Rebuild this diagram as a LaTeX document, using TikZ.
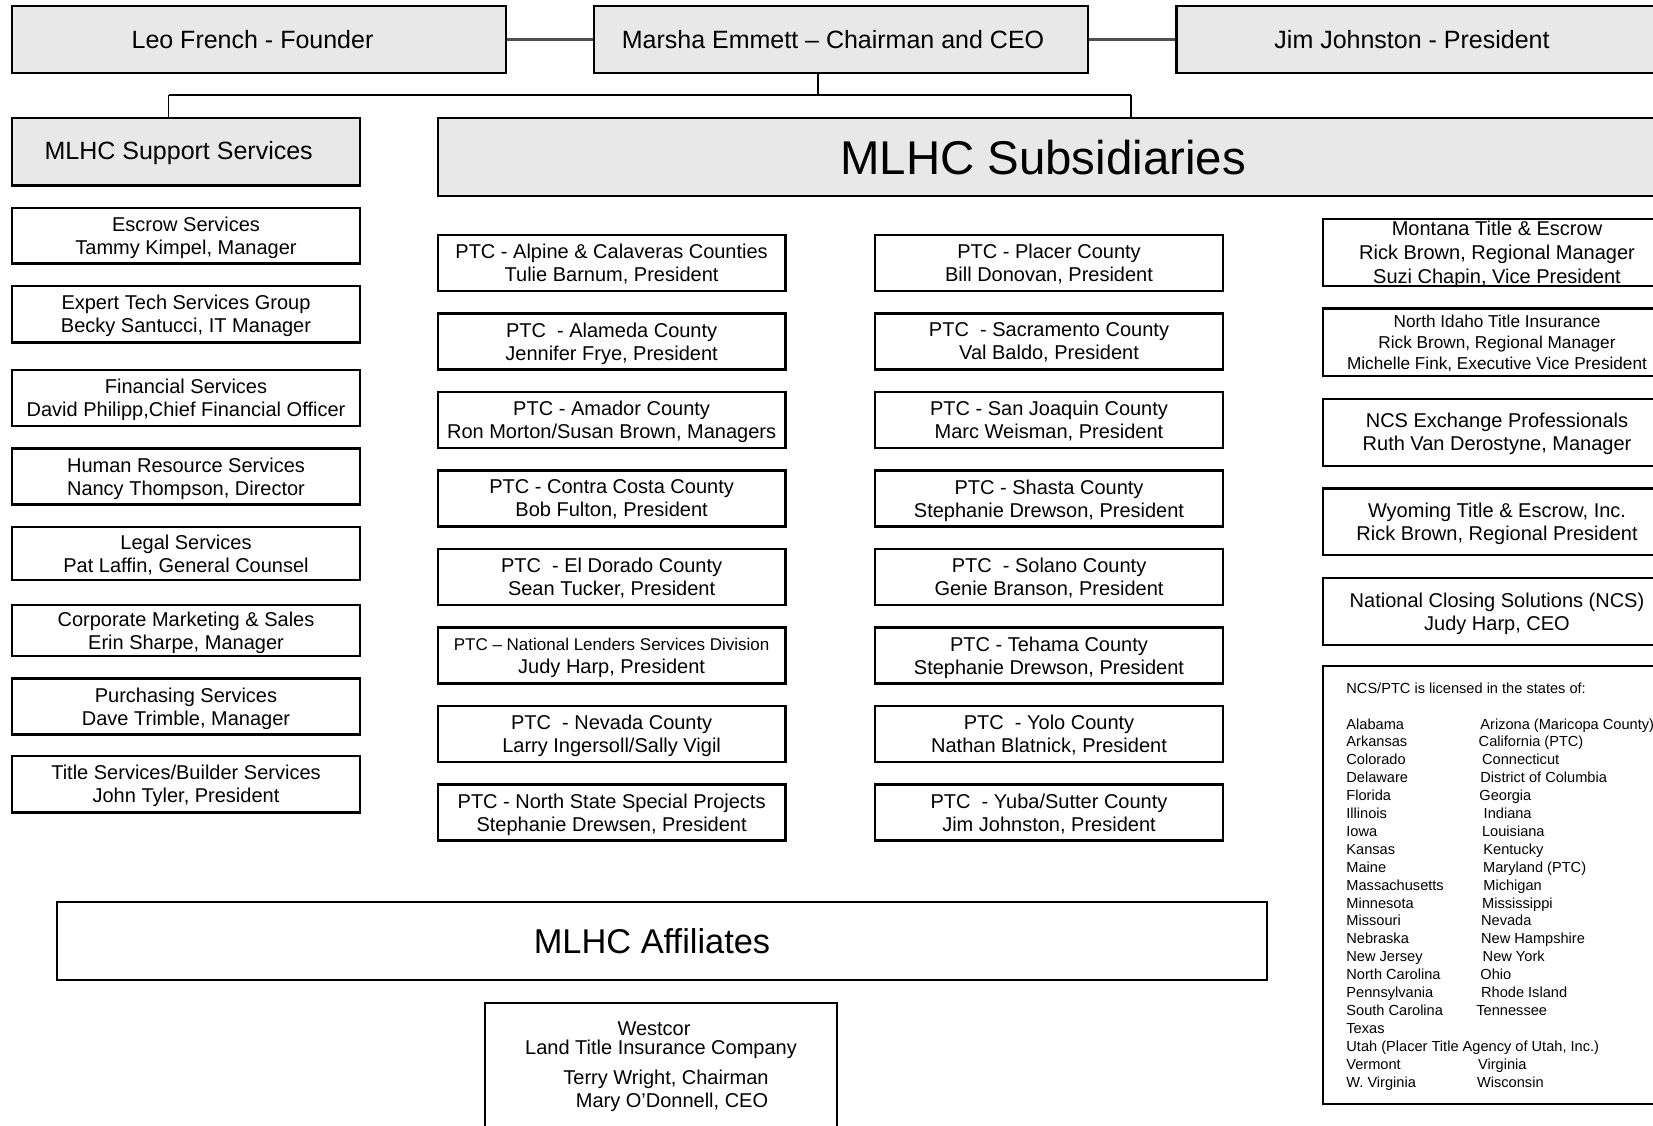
\documentclass[tikz,border=0pt]{standalone}
\usepackage{fontspec}
\setmainfont{Liberation Sans}
\definecolor{boxgray}{RGB}{232,232,232}
\definecolor{conngray}{RGB}{80,80,80}
\newcommand{\fbody}{\fontsize{10}{11.5}\selectfont}
\newcommand{\ftop}{\fontsize{12.5}{15}\selectfont}
\newcommand{\fsubs}{\fontsize{23.7}{28}\selectfont}
\newcommand{\faff}{\fontsize{17.2}{20}\selectfont}
\newcommand{\fsmall}{\fontsize{8.5}{11.5}\selectfont}
\newcommand{\fidaho}{\fontsize{8.6}{10.5}\selectfont}
\newcommand{\fstate}{\fontsize{7.3}{9}\selectfont}
\newcommand{\fmont}{\fontsize{10}{12}\selectfont}
\newcommand{\orgbox}[7][]{\node[obox,#1,minimum width={(#5-#3)*0.5pt},minimum height={(#6-#4)*0.5pt}] (#2) at ({(#3+#5)/2},{(#4+#6)/2}) {#7};}
\tikzset{
  obox/.style={draw=black, line width=1.2pt, rectangle, inner sep=0pt, align=center, font=\fbody, text depth=0pt},
  graybox/.style={fill=boxgray},
  txt/.style={inner sep=0pt, anchor=base},
  sttxt/.style={inner sep=0pt, anchor=base west, font=\fstate},
  conn/.style={draw=conngray, line width=1.5pt},
  tree/.style={draw=black, line width=1.1pt},
  treev/.style={draw=black, line width=0.7pt}
}
\begin{document}
\begin{tikzpicture}[x=0.5pt,y=-0.5pt]
\useasboundingbox (0,0) rectangle (1653,1125);
\clip (0,0) rectangle (1653,1125);
\fill[white] (0,0) rectangle (1653,1125);

% ---- top row
\orgbox[graybox,line width=1.1pt]{leo}{12}{6}{506}{73}{}
\orgbox[graybox,line width=1.1pt]{marsha}{594}{6}{1088}{73}{}
\orgbox[graybox,line width=1.1pt]{jim}{1176.5}{6}{1662}{73}{}
\node[txt,font=\ftop] (leot) at (252.5,48) {Leo French - Founder};
\node[txt,font=\ftop] (marshat) at (833,48) {Marsha Emmett – Chairman and CEO};
\node[txt,font=\ftop] (jimt) at (1412,48) {Jim Johnston - President};
\draw[conn] (leo.east) -- (marsha.west);
\draw[conn] (marsha.east) -- (jim.west);

% ---- second row headers
\orgbox[graybox]{support}{12}{118}{360}{185.5}{}
\orgbox[graybox]{subs}{438}{118}{1662}{196}{}
\node[txt,font=\ftop] (supportt) at (178.7,159) {MLHC Support Services};
\node[txt,font=\fsubs] (subst) at (1043,174) {MLHC Subsidiaries};

% ---- tree connectors
\coordinate (tj) at (818,95);
\coordinate (hl) at (168.7,95);
\coordinate (hr) at (1131,95);
\draw[treev] (marsha.south -| tj) -- (tj);
\draw[tree] (hl) -- (hr);
\draw[treev] (hl) -- (hl |- support.north);
\draw[treev] (hr) -- (hr |- subs.north);

% ---- support services column
\orgbox{escrow}{12}{207.7}{360}{263.3}{Escrow Services\\Tammy Kimpel, Manager}
\orgbox{expert}{12}{286}{360}{342.3}{Expert Tech Services Group\\Becky Santucci, IT Manager}
\orgbox{financial}{12}{370}{360}{426}{Financial Services\\David Philipp,Chief Financial Officer}
\orgbox{human}{12}{448.3}{360}{504.3}{Human Resource Services\\Nancy Thompson, Director}
\orgbox{legal}{12}{526.7}{360}{580}{Legal Services\\Pat Laffin, General Counsel}
\orgbox{marketing}{12}{605}{360}{656}{Corporate Marketing \& Sales\\Erin Sharpe, Manager}
\orgbox{purchasing}{12}{678.3}{360}{734.3}{Purchasing Services\\Dave Trimble, Manager}
\orgbox{titlesvc}{12}{756}{360}{812.3}{Title Services/Builder Services\\John Tyler, President}

% ---- subsidiaries, column 1
\orgbox{alpine}{437.7}{235}{785.5}{291}{PTC - Alpine \& Calaveras Counties\\Tulie Barnum, President}
\orgbox{alameda}{437.7}{313.5}{785.5}{369.5}{PTC~ - Alameda County\\Jennifer Frye, President}
\orgbox{amador}{437.7}{392}{785.5}{448}{PTC - Amador County\\Ron Morton/Susan Brown, Managers}
\orgbox{contra}{437.7}{470.5}{785.5}{526.5}{PTC - Contra Costa County\\Bob Fulton, President}
\orgbox{eldorado}{437.7}{549}{785.5}{605}{PTC~ - El Dorado County\\Sean Tucker, President}
\orgbox{lenders}{437.7}{627.5}{785.5}{683.5}{{\fsmall PTC – National Lenders Services Division}\\Judy Harp, President}
\orgbox{nevada}{437.7}{706}{785.5}{762}{PTC~ - Nevada County\\Larry Ingersoll/Sally Vigil}
\orgbox{northstate}{437.7}{784.5}{785.5}{840.5}{PTC - North State Special Projects\\Stephanie Drewsen, President}

% ---- subsidiaries, column 2
\orgbox{placer}{875}{235}{1223}{291}{PTC - Placer County\\Bill Donovan, President}
\orgbox{sacramento}{875}{313.5}{1223}{369.5}{PTC~ - Sacramento County\\Val Baldo, President}
\orgbox{sanjoaquin}{875}{392}{1223}{448}{PTC - San Joaquin County\\Marc Weisman, President}
\orgbox{shasta}{875}{470.5}{1223}{526.5}{PTC - Shasta County\\Stephanie Drewson, President}
\orgbox{solano}{875}{549}{1223}{605}{PTC~ - Solano County\\Genie Branson, President}
\orgbox{tehama}{875}{627.5}{1223}{683.5}{PTC - Tehama County\\Stephanie Drewson, President}
\orgbox{yolo}{875}{706}{1223}{762}{PTC~ - Yolo County\\Nathan Blatnick, President}
\orgbox{yuba}{875}{784.5}{1223}{840.5}{PTC~ - Yuba/Sutter County\\Jim Johnston, President}

% ---- subsidiaries, right column
\orgbox[font=\fmont]{montana}{1322.7}{219}{1671.3}{286}{Montana Title \& Escrow\\Rick Brown, Regional Manager\\Suzi Chapin, Vice President}
\orgbox[font=\fidaho]{idaho}{1322.7}{308.3}{1671.3}{375.7}{North Idaho Title Insurance\\Rick Brown, Regional Manager\\Michelle Fink, Executive Vice President}
\orgbox{ncsex}{1322.7}{398.7}{1671.3}{465.7}{NCS Exchange Professionals\\Ruth Van Derostyne, Manager}
\orgbox{wyoming}{1322.7}{488.3}{1671.3}{555}{Wyoming Title \& Escrow, Inc.\\Rick Brown, Regional President}
\orgbox{ncs}{1322.7}{577.7}{1671.3}{645}{National Closing Solutions (NCS)\\Judy Harp, CEO}
\orgbox{states}{1322.7}{666}{1671.3}{1104}{}

% ---- states list
\node[sttxt] (sthead) at (1346,693) {NCS/PTC is licensed in the states of:};
\foreach \s [count=\i from 0] in {Alabama,Arkansas,Colorado,Delaware,Florida,Illinois,Iowa,Kansas,Maine,Massachusetts,Minnesota,Missouri,Nebraska,New Jersey,North Carolina,Pennsylvania,South Carolina,Texas,{Utah (Placer Title Agency of Utah, Inc.)},Vermont,W. Virginia}
  \node[sttxt] (sl\i) at (1346,{729+17.9*\i}) {\s};
\foreach \r/\dx/\s in {0/4/Arizona (Maricopa County),1/2.3/California (PTC),2/5.7/Connecticut,3/4/District of Columbia,4/3/Georgia,5/7.3/Indiana,6/5.7/Louisiana,7/7/Kentucky,8/6.7/Maryland (PTC),9/7/Michigan,10/5.7/Mississippi,11/4.7/Nevada,12/4.7/New Hampshire,13/6.3/New York,14/4/Ohio,15/4.7/Rhode Island,16/0/Tennessee,19/1.7/Virginia,20/0.7/Wisconsin}
  \node[sttxt] (sr\r) at ({1476+\dx},{729+17.9*\r}) {\s};

% ---- affiliates
\orgbox{affiliates}{57}{902}{1267}{980}{}
\node[txt,font=\faff] (afft) at (652,953) {MLHC Affiliates};
\orgbox{westcor}{485}{1003}{836.7}{1145}{}
\node[txt,font=\fbody] (w1) at (654,1035) {Westcor};
\node[txt,font=\fbody] (w2) at (661,1054) {Land Title Insurance Company};
\node[txt,font=\fbody] (w3) at (666,1084) {Terry Wright, Chairman};
\node[txt,font=\fbody] (w4) at (672,1107) {Mary O’Donnell, CEO};
\end{tikzpicture}
\end{document}
